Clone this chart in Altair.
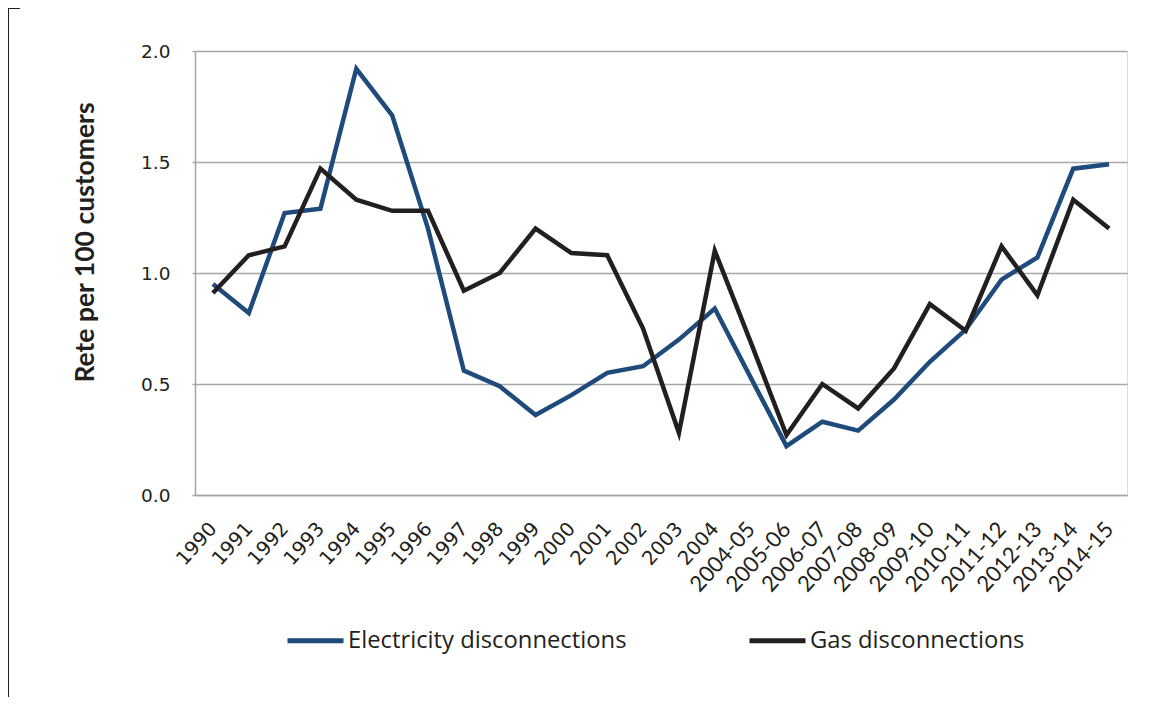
import altair as alt
import pandas as pd

years = ["1990", "1991", "1992", "1993", "1994", "1995", "1996", "1997", "1998", "1999",
         "2000", "2001", "2002", "2003", "2004", "2004-05", "2005-06", "2006-07", "2007-08",
         "2008-09", "2009-10", "2010-11", "2011-12", "2012-13", "2013-14", "2014-15"]

electricity = [0.95, 0.82, 1.27, 1.29, 1.92, 1.71, 1.20, 0.56, 0.49, 0.36,
               0.45, 0.55, 0.58, 0.70, 0.84, 0.53, 0.22, 0.33, 0.29,
               0.43, 0.60, 0.745, 0.97, 1.07, 1.47, 1.49]

gas = [0.91, 1.08, 1.12, 1.47, 1.33, 1.28, 1.28, 0.92, 1.00, 1.20,
       1.09, 1.08, 0.75, 0.28, 1.10, 0.69, 0.27, 0.50, 0.39,
       0.57, 0.86, 0.74, 1.12, 0.90, 1.33, 1.20]

series_names = ["Electricity disconnections", "Gas disconnections"]
series_colors = ["#1f4a7c", "#231f20"]

rows = []
for i, y in enumerate(years):
    rows.append({"year": y, "series": series_names[0], "value": electricity[i], "order": i})
for i, y in enumerate(years):
    rows.append({"year": y, "series": series_names[1], "value": gas[i], "order": i})
df = pd.DataFrame(rows)

grid_color = "#a6a6a6"
text_color = "#231f20"

lines = alt.Chart(df).mark_line(strokeWidth=4.5, strokeJoin="miter").encode(
    x=alt.X("year:N", sort=years, scale=alt.Scale(paddingOuter=0.5, paddingInner=0),
            axis=alt.Axis(title=None, labelAngle=-48,
                          labelFont=alt.ExprRef("length(datum.label) > 4 ? 'Lato' : 'DejaVu Sans'"),
                          labelFontSize=alt.ExprRef("length(datum.label) > 4 ? 22 : 19.5"),
                          labelColor=text_color, ticks=False, domainColor=grid_color,
                          domainWidth=1.5, labelPadding=30, grid=False,
                          labelOverlap=False)),
    y=alt.Y("value:Q", scale=alt.Scale(domain=[0, 2]),
            axis=alt.Axis(title="Rete per 100 customers", values=[0, 0.5, 1.0, 1.5, 2.0],
                          format=".1f", labelFont="DejaVu Sans", labelFontSize=18.5,
                          labelColor=text_color, labelPadding=22, tickSize=3,
                          tickColor=grid_color, tickWidth=1.5, domainColor=grid_color,
                          domainWidth=1.5, gridColor=grid_color, gridWidth=1.5,
                          titleFont="Lato", titleFontSize=26.5, titleFontWeight="bold",
                          titleColor=text_color, titleAngle=-90, titleX=-110, titleY=191,
                          titleAlign="center", titleBaseline="middle")),
    color=alt.Color("series:N", scale=alt.Scale(domain=series_names, range=series_colors),
                    legend=alt.Legend(title=None, orient="none", direction="horizontal",
                                      legendX=90, legendY=559, symbolType="stroke",
                                      symbolSize=3136, symbolStrokeWidth=5,
                                      labelFont="Open Sans", labelFontSize=23.8,
                                      labelColor=text_color, labelOffset=2,
                                      labelLimit=0,
                                      columnPadding=112, symbolOpacity=1)),
    order="order:Q",
)

frame = alt.Chart(pd.DataFrame({"k": [0]})).mark_rule(color=text_color, strokeWidth=1).encode(
    x=alt.value(-186.5), y=alt.value(-43), y2=alt.value(646)
)
frame_top = alt.Chart(pd.DataFrame({"k": [0]})).mark_rule(color=text_color, strokeWidth=1).encode(
    x=alt.value(-186.5), x2=alt.value(-175), y=alt.value(-42.5)
)

chart = alt.layer(lines, frame, frame_top).properties(
    width=932, height=444,
    autosize=alt.AutoSizeParams(type="none"),
    padding={"left": 187, "top": 43, "right": 29, "bottom": 202},
).configure_view(stroke=None).configure(background="white")

chart.save("out.html", embed_options={"renderer": "svg", "actions": False})
